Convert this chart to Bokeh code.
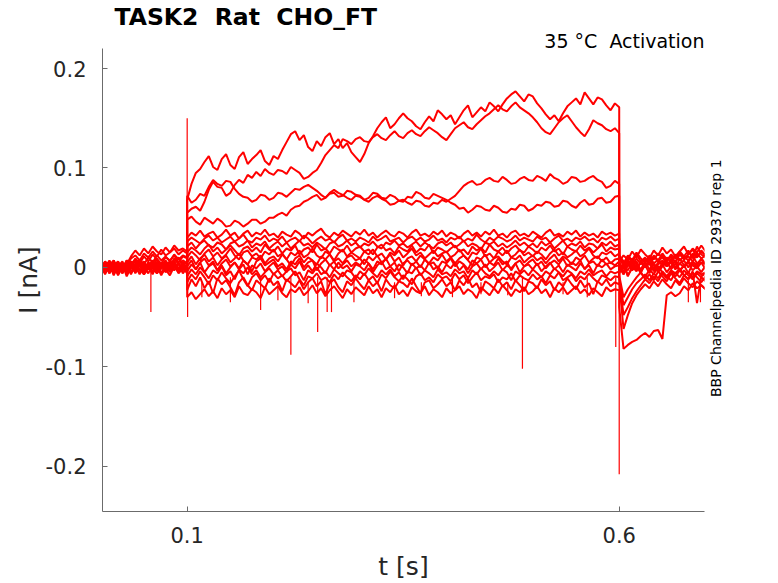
import numpy as np
from bokeh.embed import file_html
from bokeh.models import ColumnDataSource, FixedTicker, LinearAxis, Title
from bokeh.plotting import figure
from bokeh.resources import INLINE

# Recorded current traces [nA], sampled every 5 ms.
# Each sweep: holding (0-0.1 s), test step (0.1-0.6 s), tail (0.6-0.7 s)
u1_pre = [0.003, -0.005, 0.006, -0.002, 0.004, -0.006, 0.002, 0.009, 0.012, 0.007, 0.014,
          0.010, 0.016, 0.011, 0.018, 0.012, 0.015, 0.019, 0.013, 0.017, 0.014]
u1_step = [0.068, 0.084, 0.095, 0.099, 0.106, 0.112, 0.101, 0.098, 0.109, 0.114, 0.103, 0.099, 0.111, 0.116, 0.104, 0.109, 0.113, 0.118, 0.107, 0.103,
           0.112, 0.109, 0.118, 0.126, 0.134, 0.137, 0.128, 0.133, 0.121, 0.117, 0.127, 0.122, 0.131, 0.135, 0.124, 0.129, 0.120, 0.125, 0.116, 0.111,
           0.106, 0.114, 0.125, 0.132, 0.140, 0.146, 0.151, 0.140, 0.144, 0.150, 0.155, 0.150, 0.147, 0.142, 0.139, 0.146, 0.152, 0.147, 0.158, 0.154,
           0.149, 0.153, 0.144, 0.151, 0.158, 0.163, 0.151, 0.156, 0.161, 0.157, 0.166, 0.162, 0.157, 0.164, 0.170, 0.174, 0.177, 0.172, 0.167, 0.174,
           0.172, 0.165, 0.160, 0.154, 0.149, 0.153, 0.147, 0.155, 0.162, 0.166, 0.170, 0.164, 0.176, 0.170, 0.164, 0.171, 0.169, 0.163, 0.158, 0.165,
           0.161]
u1_post = [0.004, -0.007, 0.002, 0.009, -0.003, 0.006, 0.001, 0.008, -0.002, 0.005, 0.011,
           0.003, 0.007, -0.001, 0.009, 0.002, 0.006, 0.012, 0.004, 0.008, 0.003]

u2_pre = [-0.004, 0.005, -0.001, 0.007, -0.006, 0.002, -0.003, 0.006, 0.001, 0.008, 0.003,
          0.010, 0.005, 0.012, 0.007, 0.011, 0.006, 0.013, 0.008, 0.012, 0.010]
u2_step = [0.055, 0.059, 0.061, 0.057, 0.066, 0.078, 0.086, 0.081, 0.080, 0.072, 0.075, 0.083, 0.088, 0.085, 0.093, 0.090, 0.096, 0.092, 0.099, 0.095,
           0.093, 0.098, 0.097, 0.094, 0.101, 0.098, 0.095, 0.089, 0.091, 0.095, 0.098, 0.105, 0.113, 0.118, 0.123, 0.120, 0.129, 0.127, 0.124, 0.129,
           0.131, 0.127, 0.126, 0.131, 0.134, 0.130, 0.128, 0.133, 0.137, 0.132, 0.130, 0.135, 0.138, 0.134, 0.132, 0.137, 0.141, 0.138, 0.135, 0.131,
           0.128, 0.134, 0.140, 0.143, 0.146, 0.141, 0.139, 0.144, 0.148, 0.152, 0.155, 0.159, 0.163, 0.159, 0.157, 0.162, 0.166, 0.161, 0.158, 0.155,
           0.151, 0.146, 0.140, 0.136, 0.134, 0.140, 0.146, 0.150, 0.153, 0.147, 0.141, 0.136, 0.132, 0.139, 0.148, 0.145, 0.143, 0.139, 0.137, 0.140,
           0.135]
u2_post = [-0.005, 0.003, -0.009, 0.001, 0.006, -0.004, 0.002, -0.006, 0.004, -0.002, 0.003,
           -0.005, 0.001, 0.007, -0.003, 0.002, -0.006, 0.004, 0.000, 0.005, -0.002]

u3_pre = [0.005, -0.003, 0.004, -0.007, 0.001, 0.006, -0.004, 0.003, -0.001, 0.007, -0.003,
          0.005, 0.000, 0.008, -0.002, 0.006, 0.001, 0.009, 0.003, 0.007, 0.004]
u3_step = [0.072, 0.065, 0.068, 0.074, 0.072, 0.081, 0.088, 0.084, 0.082, 0.087, 0.086, 0.079, 0.074, 0.071, 0.070, 0.066, 0.068, 0.073, 0.072, 0.068,
           0.070, 0.075, 0.074, 0.071, 0.075, 0.079, 0.078, 0.081, 0.083, 0.080, 0.077, 0.073, 0.070, 0.075, 0.078, 0.075, 0.073, 0.070, 0.068, 0.072,
           0.071, 0.068, 0.066, 0.070, 0.072, 0.069, 0.067, 0.063, 0.064, 0.067, 0.068, 0.065, 0.063, 0.067, 0.066, 0.062, 0.061, 0.065, 0.064, 0.068,
           0.066, 0.069, 0.072, 0.077, 0.082, 0.085, 0.087, 0.083, 0.084, 0.088, 0.090, 0.087, 0.086, 0.091, 0.088, 0.084, 0.085, 0.089, 0.091, 0.088,
           0.087, 0.092, 0.090, 0.087, 0.094, 0.090, 0.088, 0.084, 0.086, 0.091, 0.090, 0.086, 0.087, 0.090, 0.092, 0.088, 0.086, 0.080, 0.082, 0.087,
           0.084]
u3_post = [0.009, 0.002, 0.011, 0.005, 0.013, 0.006, 0.010, 0.003, 0.012, 0.007, 0.014,
           0.008, 0.011, 0.005, 0.015, 0.009, 0.013, 0.018, 0.010, 0.016, 0.012]

u4_pre = [-0.006, 0.002, -0.004, 0.005, -0.002, 0.004, -0.007, 0.001, -0.003, 0.006, -0.005,
          0.002, -0.001, 0.005, -0.006, 0.003, -0.002, 0.006, -0.004, 0.003, 0.001]
u4_step = [0.048, 0.051, 0.046, 0.043, 0.050, 0.047, 0.044, 0.049, 0.046, 0.041, 0.042, 0.047, 0.045, 0.041, 0.044, 0.048, 0.048, 0.044, 0.046, 0.050,
           0.050, 0.053, 0.055, 0.052, 0.058, 0.061, 0.062, 0.066, 0.068, 0.071, 0.073, 0.068, 0.070, 0.074, 0.075, 0.071, 0.072, 0.077, 0.076, 0.073,
           0.072, 0.068, 0.070, 0.075, 0.074, 0.070, 0.069, 0.073, 0.071, 0.067, 0.066, 0.071, 0.070, 0.076, 0.074, 0.070, 0.069, 0.074, 0.072, 0.070,
           0.068, 0.065, 0.063, 0.059, 0.060, 0.055, 0.058, 0.062, 0.061, 0.058, 0.057, 0.062, 0.060, 0.056, 0.055, 0.059, 0.058, 0.063, 0.062, 0.057,
           0.059, 0.063, 0.062, 0.066, 0.065, 0.061, 0.062, 0.067, 0.066, 0.062, 0.060, 0.065, 0.068, 0.063, 0.064, 0.069, 0.070, 0.065, 0.066, 0.071,
           0.072]
u4_post = [-0.010, -0.038, -0.030, -0.022, -0.016, -0.012, -0.007, -0.013, -0.006, -0.011, -0.004,
           -0.009, -0.013, -0.005, -0.010, -0.003, -0.008, -0.012, -0.006, -0.010, -0.014]

b1_pre = [0.004, -0.002, 0.007, 0.000, 0.005, -0.004, 0.003, 0.011, 0.017, 0.012, 0.019,
          0.014, 0.021, 0.016, 0.013, 0.020, 0.015, 0.022, 0.017, 0.019, 0.016]
b1_step = [0.030, 0.035, 0.032, 0.037, 0.031, 0.034, 0.036, 0.030, 0.033, 0.038, 0.032, 0.035, 0.029, 0.034, 0.037, 0.031, 0.035, 0.033, 0.038, 0.032,
           0.034, 0.030, 0.036, 0.033, 0.031, 0.037, 0.034, 0.029, 0.035, 0.032, 0.036, 0.039, 0.033, 0.030, 0.035, 0.032, 0.037, 0.034, 0.031, 0.036,
           0.033, 0.038, 0.032, 0.035, 0.030, 0.034, 0.037, 0.033, 0.031, 0.036, 0.034, 0.030, 0.035, 0.038, 0.032, 0.034, 0.031, 0.036, 0.033, 0.037,
           0.031, 0.035, 0.033, 0.029, 0.034, 0.037, 0.032, 0.035, 0.031, 0.036, 0.033, 0.038, 0.032, 0.034, 0.030, 0.035, 0.037, 0.032, 0.034, 0.031,
           0.036, 0.033, 0.030, 0.035, 0.038, 0.032, 0.034, 0.031, 0.036, 0.033, 0.037, 0.031, 0.035, 0.032, 0.034, 0.030, 0.036, 0.033, 0.035, 0.032,
           0.034]
b1_post = [0.006, 0.012, 0.008, 0.016, 0.010, 0.018, 0.013, 0.009, 0.017, 0.012, 0.020,
           0.014, 0.018, 0.011, 0.016, 0.021, 0.013, 0.019, 0.015, 0.022, 0.016]

b2_pre = [-0.002, 0.006, 0.001, -0.005, 0.004, -0.001, 0.007, 0.002, 0.009, 0.004, 0.011,
          0.006, 0.013, 0.008, 0.004, 0.010, 0.007, 0.012, 0.005, 0.011, 0.009]
b2_step = [0.026, 0.030, 0.027, 0.024, 0.029, 0.032, 0.027, 0.030, 0.025, 0.028, 0.031, 0.026, 0.029, 0.033, 0.027, 0.025, 0.030, 0.028, 0.032, 0.026,
           0.029, 0.027, 0.031, 0.025, 0.028, 0.030, 0.026, 0.032, 0.029, 0.024, 0.028, 0.031, 0.027, 0.029, 0.025, 0.030, 0.033, 0.027, 0.029, 0.026,
           0.030, 0.028, 0.025, 0.031, 0.027, 0.029, 0.032, 0.026, 0.028, 0.030, 0.025, 0.029, 0.031, 0.027, 0.030, 0.026, 0.028, 0.032, 0.027, 0.029,
           0.025, 0.030, 0.028, 0.031, 0.026, 0.029, 0.027, 0.033, 0.028, 0.025, 0.030, 0.027, 0.031, 0.029, 0.026, 0.028, 0.032, 0.027, 0.030, 0.028,
           0.026, 0.031, 0.028, 0.030, 0.025, 0.029, 0.032, 0.027, 0.029, 0.026, 0.030, 0.028, 0.031, 0.027, 0.029, 0.025, 0.030, 0.028, 0.031, 0.027,
           0.029]
b2_post = [0.002, -0.005, 0.006, 0.001, 0.009, 0.003, 0.008, 0.004, 0.011, 0.006, 0.012,
           0.007, 0.010, 0.005, 0.013, 0.008, 0.011, 0.006, 0.014, 0.009, 0.012]

b3_pre = [0.006, -0.003, 0.002, 0.007, -0.002, 0.004, -0.005, 0.003, 0.008, 0.001, 0.006,
          -0.002, 0.005, 0.009, 0.002, 0.007, 0.000, 0.006, 0.010, 0.003, 0.005]
b3_step = [0.021, 0.025, 0.019, 0.024, 0.027, 0.022, 0.020, 0.025, 0.023, 0.018, 0.024, 0.026, 0.021, 0.023, 0.027, 0.020, 0.024, 0.022, 0.026, 0.019,
           0.023, 0.026, 0.021, 0.025, 0.019, 0.023, 0.027, 0.022, 0.024, 0.020, 0.025, 0.022, 0.018, 0.024, 0.026, 0.021, 0.023, 0.027, 0.022, 0.025,
           0.020, 0.024, 0.022, 0.026, 0.021, 0.019, 0.025, 0.023, 0.027, 0.022, 0.024, 0.020, 0.023, 0.026, 0.021, 0.025, 0.022, 0.019, 0.024, 0.026,
           0.022, 0.025, 0.020, 0.023, 0.027, 0.021, 0.024, 0.022, 0.018, 0.025, 0.023, 0.026, 0.021, 0.024, 0.020, 0.023, 0.027, 0.022, 0.025, 0.021,
           0.024, 0.020, 0.026, 0.022, 0.025, 0.019, 0.023, 0.027, 0.021, 0.024, 0.022, 0.026, 0.020, 0.024, 0.023, 0.019, 0.025, 0.022, 0.026, 0.021,
           0.023]
b3_post = [-0.006, 0.002, -0.003, 0.005, -0.002, 0.006, 0.000, 0.004, -0.004, 0.003, 0.007,
           0.001, 0.005, -0.002, 0.004, 0.000, 0.006, 0.002, -0.001, 0.005, 0.003]

b4_pre = [-0.001, 0.004, -0.006, 0.002, 0.006, -0.003, 0.007, 0.001, -0.004, 0.005, 0.002,
          -0.002, 0.006, 0.000, 0.004, -0.003, 0.007, 0.002, -0.001, 0.005, 0.003]
b4_step = [0.015, 0.020, 0.017, 0.013, 0.019, 0.023, 0.016, 0.020, 0.014, 0.018, 0.022, 0.017, 0.012, 0.019, 0.021, 0.016, 0.020, 0.015, 0.023, 0.018,
           0.016, 0.021, 0.014, 0.019, 0.017, 0.022, 0.013, 0.018, 0.020, 0.015, 0.023, 0.017, 0.019, 0.014, 0.021, 0.018, 0.016, 0.022, 0.015, 0.019,
           0.021, 0.016, 0.018, 0.013, 0.020, 0.023, 0.017, 0.019, 0.014, 0.021, 0.018, 0.016, 0.022, 0.015, 0.019, 0.017, 0.023, 0.014, 0.020, 0.018,
           0.015, 0.019, 0.022, 0.016, 0.018, 0.013, 0.021, 0.017, 0.020, 0.015, 0.023, 0.018, 0.016, 0.020, 0.014, 0.019, 0.022, 0.017, 0.015, 0.021,
           0.018, 0.014, 0.020, 0.017, 0.022, 0.016, 0.019, 0.013, 0.021, 0.018, 0.016, 0.022, 0.017, 0.020, 0.015, 0.019, 0.023, 0.016, 0.020, 0.018,
           0.019]
b4_post = [0.010, 0.004, 0.012, 0.007, 0.015, 0.009, 0.005, 0.012, 0.008, 0.014, 0.010,
           0.006, 0.013, 0.009, 0.016, 0.011, 0.007, 0.014, 0.010, 0.017, 0.012]

b5_pre = [0.007, 0.001, -0.003, 0.004, -0.007, 0.003, 0.000, 0.006, -0.002, 0.004, -0.005,
          0.002, 0.007, -0.001, 0.003, -0.004, 0.005, 0.001, -0.002, 0.004, 0.000]
b5_step = [0.010, 0.016, 0.012, 0.007, 0.014, 0.018, 0.011, 0.015, 0.009, 0.013, 0.019, 0.012, 0.008, 0.015, 0.017, 0.011, 0.014, 0.009, 0.016, 0.013,
           0.018, 0.011, 0.014, 0.008, 0.015, 0.012, 0.017, 0.010, 0.013, 0.019, 0.012, 0.009, 0.016, 0.013, 0.007, 0.014, 0.018, 0.011, 0.015, 0.012,
           0.009, 0.016, 0.013, 0.018, 0.011, 0.014, 0.008, 0.015, 0.012, 0.017, 0.010, 0.014, 0.019, 0.012, 0.015, 0.009, 0.013, 0.017, 0.011, 0.014,
           0.016, 0.010, 0.013, 0.018, 0.012, 0.008, 0.015, 0.013, 0.019, 0.011, 0.014, 0.009, 0.016, 0.012, 0.017, 0.010, 0.013, 0.018, 0.012, 0.015,
           0.011, 0.016, 0.013, 0.008, 0.014, 0.018, 0.012, 0.015, 0.010, 0.013, 0.017, 0.011, 0.014, 0.019, 0.012, 0.009, 0.015, 0.013, 0.016, 0.011,
           0.014]
b5_post = [-0.012, -0.048, -0.040, -0.031, -0.024, -0.018, -0.012, -0.016, -0.009, -0.014, -0.006,
           -0.011, -0.004, -0.009, -0.003, -0.008, -0.005, -0.010, -0.004, -0.007, -0.005]

b6_pre = [-0.005, 0.002, 0.006, -0.003, 0.001, -0.006, 0.004, -0.001, 0.007, -0.004, 0.002,
          -0.002, 0.005, -0.005, 0.003, 0.000, -0.004, 0.006, -0.001, 0.002, -0.003]
b6_step = [0.005, 0.011, 0.003, 0.009, 0.013, 0.006, 0.010, 0.002, 0.008, 0.012, 0.005, 0.009, 0.014, 0.007, 0.003, 0.010, 0.008, 0.012, 0.004, 0.009,
           0.011, 0.006, 0.013, 0.008, 0.002, 0.009, 0.012, 0.005, 0.010, 0.007, 0.003, 0.011, 0.008, 0.013, 0.006, 0.009, 0.004, 0.010, 0.012, 0.007,
           0.009, 0.003, 0.011, 0.007, 0.012, 0.005, 0.008, 0.013, 0.006, 0.010, 0.002, 0.009, 0.011, 0.006, 0.012, 0.008, 0.004, 0.010, 0.007, 0.013,
           0.006, 0.010, 0.004, 0.009, 0.012, 0.007, 0.002, 0.010, 0.008, 0.013, 0.005, 0.009, 0.011, 0.006, 0.003, 0.010, 0.008, 0.012, 0.005, 0.009,
           0.012, 0.007, 0.010, 0.004, 0.009, 0.013, 0.006, 0.011, 0.008, 0.003, 0.010, 0.007, 0.012, 0.005, 0.009, 0.011, 0.006, 0.010, 0.004, 0.008,
           0.009]
b6_post = [0.000, -0.007, 0.004, -0.003, 0.002, -0.006, 0.005, -0.002, 0.003, -0.005, 0.001,
           0.006, -0.002, 0.004, -0.004, 0.002, 0.005, -0.003, 0.001, -0.005, 0.002]

b7_pre = [0.002, -0.007, 0.003, 0.000, -0.005, 0.004, -0.002, 0.006, -0.006, 0.002, -0.003,
          0.005, -0.001, -0.006, 0.003, 0.001, -0.004, 0.004, -0.002, 0.003, -0.001]
b7_step = [0.001, 0.007, -0.002, 0.005, 0.009, 0.002, 0.006, -0.003, 0.004, 0.008, 0.001, 0.005, -0.001, 0.007, 0.003, -0.004, 0.006, 0.009, 0.002, 0.005,
           0.008, 0.001, 0.004, -0.002, 0.006, 0.003, 0.009, 0.000, 0.005, 0.007, -0.003, 0.004, 0.008, 0.002, 0.006, -0.001, 0.003, 0.007, 0.001, 0.005,
           0.002, 0.008, 0.004, -0.002, 0.006, 0.003, 0.009, 0.001, 0.005, -0.004, 0.004, 0.007, 0.002, 0.006, 0.000, 0.008, 0.003, 0.005, -0.001, 0.006,
           0.004, 0.009, 0.001, 0.006, 0.003, -0.002, 0.007, 0.004, 0.008, 0.000, 0.005, 0.002, 0.009, 0.003, 0.006, -0.003, 0.004, 0.007, 0.001, 0.005,
           0.008, 0.002, 0.006, -0.001, 0.004, 0.007, 0.003, 0.009, 0.001, 0.005, 0.002, 0.007, -0.002, 0.004, 0.006, 0.001, 0.008, 0.003, 0.005, 0.002,
           0.006]
b7_post = [-0.008, -0.030, -0.022, -0.016, -0.010, -0.005, -0.012, -0.007, -0.013, -0.004, -0.009,
           -0.014, -0.006, -0.011, -0.016, -0.008, -0.012, -0.005, -0.010, -0.015, -0.009]

b8_pre = [-0.007, 0.000, -0.004, 0.005, -0.001, 0.004, -0.006, 0.002, -0.002, 0.006, -0.003,
          0.001, -0.007, 0.003, -0.001, 0.005, -0.004, 0.000, 0.004, -0.003, 0.002]
b8_step = [-0.004, 0.003, -0.002, 0.005, -0.005, 0.001, 0.004, -0.003, 0.002, -0.006, 0.000, 0.005, -0.002, 0.003, -0.007, 0.002, -0.001, 0.004, -0.004, 0.001,
           0.005, -0.002, 0.001, -0.005, 0.003, -0.001, 0.006, -0.003, 0.002, -0.004, 0.004, 0.000, -0.006, 0.003, -0.002, 0.005, -0.001, 0.002, -0.004, 0.003,
           0.001, -0.003, 0.004, -0.005, 0.002, 0.006, -0.002, 0.001, -0.004, 0.003, 0.000, -0.006, 0.004, -0.001, 0.002, -0.003, 0.005, -0.002, 0.001, -0.005,
           0.003, -0.001, 0.005, -0.003, 0.002, -0.006, 0.001, 0.004, -0.002, 0.003, -0.004, 0.000, 0.005, -0.003, 0.002, -0.001, 0.004, -0.005, 0.001, 0.003,
           -0.002, 0.004, -0.004, 0.001, 0.005, -0.002, 0.002, -0.005, 0.003, 0.000, -0.003, 0.004, -0.001, 0.002, -0.006, 0.003, 0.000, 0.004, -0.002, 0.001,
           0.002]
b8_post = [0.005, -0.002, 0.008, 0.001, -0.004, 0.006, 0.000, 0.009, 0.002, -0.003, 0.005,
           0.001, 0.008, -0.001, 0.004, 0.007, 0.000, 0.006, 0.002, 0.009, 0.004]

b9_pre = [0.004, -0.006, 0.001, -0.003, 0.006, -0.004, 0.002, -0.007, 0.004, -0.003, 0.000,
          -0.006, 0.003, -0.002, 0.005, -0.005, 0.001, -0.003, 0.004, -0.006, 0.000]
b9_step = [-0.009, -0.002, -0.007, 0.000, -0.005, -0.011, -0.003, -0.006, 0.001, -0.008, -0.004, -0.012, -0.002, -0.006, 0.000, -0.007, -0.003, -0.010, -0.005, -0.001,
           -0.007, -0.003, -0.009, -0.004, -0.001, -0.008, -0.005, -0.013, -0.003, -0.006, 0.000, -0.007, -0.004, -0.010, -0.002, -0.006, -0.009, -0.003, -0.005, -0.011,
           -0.004, -0.008, -0.001, -0.006, -0.010, -0.003, -0.007, -0.002, -0.009, -0.005, -0.012, -0.004, -0.006, 0.000, -0.008, -0.003, -0.006, -0.010, -0.002, -0.007,
           -0.005, -0.009, -0.002, -0.006, -0.004, -0.011, -0.003, -0.007, -0.001, -0.006, -0.009, -0.004, -0.008, -0.002, -0.005, -0.013, -0.004, -0.007, -0.003, -0.008,
           -0.002, -0.006, -0.010, -0.004, -0.007, -0.001, -0.005, -0.009, -0.003, -0.006, -0.011, -0.004, -0.007, -0.002, -0.008, -0.005, -0.003, -0.009, -0.004, -0.006,
           -0.004]
b9_post = [-0.003, 0.004, -0.008, -0.001, 0.003, -0.006, -0.010, -0.002, -0.007, 0.001, -0.005,
           -0.009, -0.003, -0.006, -0.001, -0.008, -0.012, -0.004, -0.036, -0.009, -0.006]

b10_pre = [-0.003, 0.006, -0.005, 0.002, -0.008, 0.000, 0.005, -0.004, 0.001, -0.007, 0.003,
           -0.002, 0.004, -0.006, 0.000, 0.003, -0.005, 0.002, -0.003, 0.004, -0.002]
b10_step = [-0.015, -0.007, -0.012, -0.004, -0.010, -0.017, -0.008, -0.013, -0.005, -0.011, -0.016, -0.009, -0.003, -0.012, -0.019, -0.010, -0.006, -0.013, -0.008, -0.015,
            -0.006, -0.011, -0.008, -0.014, -0.009, -0.004, -0.012, -0.018, -0.009, -0.011, -0.006, -0.013, -0.010, -0.015, -0.007, -0.012, -0.005, -0.010, -0.014, -0.008,
            -0.012, -0.006, -0.013, -0.009, -0.016, -0.007, -0.011, -0.004, -0.010, -0.014, -0.008, -0.012, -0.017, -0.009, -0.006, -0.013, -0.010, -0.015, -0.007, -0.011,
            -0.009, -0.014, -0.006, -0.012, -0.008, -0.016, -0.010, -0.005, -0.013, -0.009, -0.011, -0.007, -0.015, -0.010, -0.012, -0.006, -0.014, -0.008, -0.011, -0.013,
            -0.007, -0.012, -0.009, -0.016, -0.008, -0.011, -0.005, -0.013, -0.010, -0.007, -0.014, -0.009, -0.012, -0.006, -0.011, -0.015, -0.008, -0.010, -0.013, -0.009,
            -0.010]
b10_post = [0.012, 0.006, 0.001, 0.009, 0.003, -0.002, 0.006, 0.011, 0.004, 0.008, 0.002,
            0.010, 0.005, 0.013, 0.007, 0.011, 0.017, 0.009, 0.021, 0.013, 0.010]

b11_pre = [0.000, -0.004, 0.004, -0.008, 0.002, -0.005, 0.003, -0.006, 0.001, -0.002, -0.007,
           0.002, -0.004, 0.001, -0.008, 0.000, -0.003, 0.003, -0.006, -0.001, -0.004]
b11_step = [-0.023, -0.012, -0.019, -0.010, -0.021, -0.014, -0.026, -0.011, -0.017, -0.013, -0.020, -0.028, -0.015, -0.010, -0.018, -0.023, -0.013, -0.017, -0.021, -0.011,
            -0.018, -0.014, -0.024, -0.012, -0.016, -0.020, -0.013, -0.022, -0.015, -0.011, -0.019, -0.014, -0.027, -0.016, -0.012, -0.020, -0.025, -0.014, -0.018, -0.011,
            -0.017, -0.022, -0.013, -0.019, -0.015, -0.024, -0.012, -0.018, -0.021, -0.014, -0.016, -0.020, -0.011, -0.019, -0.026, -0.015, -0.013, -0.021, -0.017, -0.012,
            -0.019, -0.015, -0.023, -0.013, -0.018, -0.011, -0.020, -0.016, -0.025, -0.014, -0.017, -0.021, -0.012, -0.019, -0.015, -0.022, -0.013, -0.018, -0.024, -0.014,
            -0.016, -0.021, -0.012, -0.018, -0.014, -0.023, -0.015, -0.019, -0.011, -0.017, -0.022, -0.013, -0.020, -0.016, -0.027, -0.014, -0.018, -0.012, -0.019, -0.015,
            -0.017]
b11_post = [-0.015, -0.062, -0.048, -0.036, -0.028, -0.022, -0.017, -0.021, -0.014, -0.019, -0.012,
            -0.017, -0.021, -0.013, -0.018, -0.011, -0.016, -0.020, -0.014, -0.018, -0.022]

b12_pre = [-0.008, 0.002, -0.006, 0.001, -0.004, 0.004, -0.009, 0.000, -0.005, 0.002, -0.007,
           -0.001, -0.004, 0.003, -0.006, -0.002, -0.008, 0.001, -0.005, 0.000, -0.006]
b12_step = [-0.030, -0.025, -0.032, -0.027, -0.022, -0.029, -0.024, -0.031, -0.021, -0.027, -0.023, -0.030, -0.019, -0.026, -0.028, -0.022, -0.025, -0.031, -0.020, -0.027,
            -0.023, -0.019, -0.026, -0.030, -0.022, -0.025, -0.020, -0.028, -0.024, -0.018, -0.026, -0.021, -0.029, -0.023, -0.019, -0.025, -0.031, -0.022, -0.027, -0.020,
            -0.024, -0.028, -0.019, -0.026, -0.022, -0.030, -0.021, -0.025, -0.018, -0.027, -0.023, -0.029, -0.020, -0.024, -0.026, -0.019, -0.028, -0.022, -0.025, -0.030,
            -0.021, -0.026, -0.023, -0.019, -0.027, -0.022, -0.025, -0.031, -0.020, -0.024, -0.028, -0.021, -0.026, -0.018, -0.023, -0.029, -0.022, -0.025, -0.020, -0.027,
            -0.024, -0.019, -0.026, -0.022, -0.030, -0.021, -0.025, -0.020, -0.027, -0.023, -0.019, -0.026, -0.022, -0.028, -0.021, -0.025, -0.029, -0.020, -0.024, -0.022,
            -0.023]
b12_post = [-0.040, -0.082, -0.078, -0.075, -0.073, -0.069, -0.066, -0.070, -0.064, -0.063, -0.072,
            -0.028, -0.025, -0.029, -0.026, -0.019, -0.023, -0.016, -0.021, -0.018, -0.022]

# short artefact spikes: time [s], level before the spike, spike tip [nA]
spike_t = [0.058, 0.100, 0.1005, 0.117, 0.150, 0.185, 0.205, 0.220, 0.240, 0.251,
           0.262, 0.267, 0.293, 0.340, 0.371, 0.407, 0.440, 0.471, 0.488, 0.535,
           0.563, 0.596, 0.600, 0.680, 0.694]
spike_base = [0.0, 0.0, 0.0, -0.015, -0.010, -0.010, -0.015, -0.010, -0.015, -0.010,
              -0.010, -0.010, -0.010, -0.015, -0.015, -0.010, -0.015, -0.015, -0.010, -0.015,
              -0.010, -0.010, 0.0, -0.010, -0.010]
spike_tip = [-0.045, 0.150, -0.050, -0.030, -0.035, -0.043, -0.033, -0.088, -0.036, -0.065,
             -0.045, -0.045, -0.035, -0.031, -0.029, -0.030, -0.027, -0.028, -0.102, -0.027,
             -0.030, -0.080, -0.208, -0.035, -0.035]

x_ticks = [0.1, 0.6]
x_tick_labels = ["0.1", "0.6"]
y_ticks = [-0.2, -0.1, 0.0, 0.1, 0.2]
y_tick_labels = ["-0.2", "-0.1", "0", "0.1", "0.2"]

sweeps = [
    (u1_pre, u1_step, u1_post), (u2_pre, u2_step, u2_post),
    (u3_pre, u3_step, u3_post), (u4_pre, u4_step, u4_post),
    (b1_pre, b1_step, b1_post), (b2_pre, b2_step, b2_post),
    (b3_pre, b3_step, b3_post), (b4_pre, b4_step, b4_post),
    (b5_pre, b5_step, b5_post), (b6_pre, b6_step, b6_post),
    (b7_pre, b7_step, b7_post), (b8_pre, b8_step, b8_post),
    (b9_pre, b9_step, b9_post), (b10_pre, b10_step, b10_post),
    (b11_pre, b11_step, b11_post), (b12_pre, b12_step, b12_post),
]

xs, ys = [], []
for pre, step, post in sweeps:
    t = np.concatenate([
        np.linspace(0.0, 0.1, len(pre)),
        np.linspace(0.1, 0.6, len(step)),
        np.linspace(0.6, 0.7, len(post)),
    ])
    xs.append(t.tolist())
    ys.append(list(pre) + list(step) + list(post))

FONT = "DejaVu Sans"
TEXT = "#262626"
AXIS = "#6b6b6b"
TAG_Y = -0.1304  # where the rotated record id starts (it reads upwards)

p = figure(
    width=778,
    height=583,
    x_range=(0.0020, 0.6987),
    y_range=(-0.2456, 0.2202),
    output_backend="svg",
    toolbar_location=None,
    tools="",
    min_border_left=102,
    min_border_right=74,
    min_border_top=43,
    min_border_bottom=71,
)

p.multi_line(xs, ys, line_color="#ff0000", line_width=2.0)
p.segment(
    x0="t", y0="base", x1="t", y1="tip",
    source=ColumnDataSource(dict(t=spike_t, base=spike_base, tip=spike_tip)),
    line_color="#ff0000", line_width=1.2,
)

# condition text sits just above the frame, the main title above that
cond = Title(text="35 °C\u00a0 Activation", align="right", text_font=FONT,
             text_font_size="19px", text_font_style="normal", text_color="black")
try:
    cond.standoff = -6
except Exception:
    pass
p.add_layout(cond, "above")

p.title.text = "TASK2\u00a0 Rat\u00a0 CHO_FT"
p.title.text_font = FONT
p.title.text_font_size = "23.5px"
p.title.text_font_style = "bold"
p.title.text_color = "black"
p.title.align = "left"
p.title.offset = 12
try:
    p.title.standoff = 0
except Exception:
    pass

p.xaxis.ticker = FixedTicker(ticks=x_ticks)
p.yaxis.ticker = FixedTicker(ticks=y_ticks)
p.xaxis.major_label_overrides = dict(zip(x_ticks, x_tick_labels))
p.yaxis.major_label_overrides = dict(zip(y_ticks, y_tick_labels))
p.xaxis.axis_label = "t [s]"
p.yaxis.axis_label = "I [nA]"

p.axis.major_tick_in = 5
p.axis.major_tick_out = 0
p.axis.minor_tick_line_color = None
p.axis.axis_line_color = AXIS
p.axis.major_tick_line_color = AXIS
p.axis.major_label_text_font = FONT
p.axis.major_label_text_font_size = "21px"
p.axis.major_label_text_color = TEXT
p.axis.axis_label_text_font = FONT
p.axis.axis_label_text_font_size = "25px"
p.axis.axis_label_text_font_style = "normal"
p.axis.axis_label_text_color = TEXT
p.yaxis.major_label_standoff = 16
p.yaxis.axis_label_standoff = 0
p.xaxis.major_label_standoff = 15
p.xaxis.axis_label_standoff = 6

# record id written up the right-hand side, as the single label of a bare axis
tag = LinearAxis(
    ticker=FixedTicker(ticks=[TAG_Y]),
    major_label_overrides={TAG_Y: "BBP Channelpedia ID 29370 rep 1"},
    major_label_orientation=np.pi / 2,
    major_label_standoff=6,
    major_label_text_font=FONT,
    major_label_text_font_size="14px",
    major_label_text_color="black",
    axis_line_color=None,
    major_tick_line_color=None,
    minor_tick_line_color=None,
)
p.add_layout(tag, "right")

p.grid.visible = False
p.outline_line_color = None
p.background_fill_color = "white"
p.border_fill_color = "white"

open("out.html", "w").write(file_html(p, INLINE))
